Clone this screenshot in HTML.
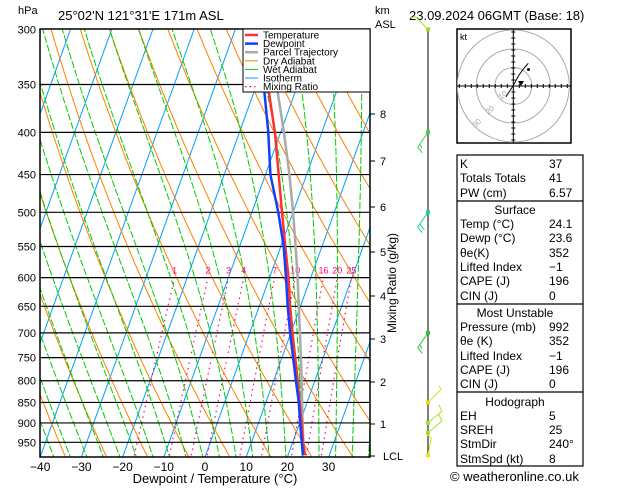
<!DOCTYPE html>
<html><head><meta charset="utf-8"><style>
body{margin:0;background:#fff;width:629px;height:486px;overflow:hidden;font-family:"Liberation Sans",sans-serif}
svg text{font-family:"Liberation Sans",sans-serif}
</style></head><body>
<svg id="s" width="629" height="486" viewBox="0 0 629 486" xmlns="http://www.w3.org/2000/svg">
<defs><clipPath id="pc"><rect x="40" y="29" width="330" height="428"/></clipPath>
<clipPath id="hc"><rect x="457" y="29" width="114" height="114"/></clipPath></defs>
<rect x="0" y="0" width="629" height="486" fill="#fff"/>
<g id="bg" clip-path="url(#pc)"></g>
<g id="iso"></g>
<g id="snd" clip-path="url(#pc)"></g>
<rect x="40" y="29" width="330" height="428" fill="none" stroke="#000" stroke-width="1.5"/>
<g id="lab" font-size="11"></g>
<text x="18" y="14" font-size="11">hPa</text>
<text x="58" y="20" font-size="13">25°02'N  121°31'E  171m  ASL</text>
<text x="375" y="14" font-size="11">km</text>
<text x="375" y="28" font-size="11">ASL</text>
<text x="409" y="20" font-size="13">23.09.2024 06GMT (Base: 18)</text>
<text x="215" y="483" font-size="13" text-anchor="middle">Dewpoint / Temperature (°C)</text>
<text transform="translate(396,283) rotate(-90)" font-size="12" text-anchor="middle">Mixing Ratio (g/kg)</text>
<g id="legend">
<rect x="243" y="29" width="127" height="63" fill="#fff" stroke="#000" stroke-width="1"/>
</g>
<g id="wind"></g>
<g id="hodo">
<rect x="457" y="29" width="114" height="114" fill="#fff" stroke="#000" stroke-width="1.5"/>
</g>
<g id="tbl" font-size="12"></g>
<text x="450" y="481" font-size="13">© weatheronline.co.uk</text>
</svg>
<script>
const pressures=[985,950,900,850,800,750,700,650,600,550,500,450,400,350,300];
const tempVals=[24.1,22.5,20.5,18.2,15.8,13.2,10.4,7.5,4.6,1.1,-2.7,-6.8,-11.4,-17.3,-24];
const dewVals=[23.6,22.2,20.1,18.0,15.4,12.7,9.8,6.9,4.0,0.7,-3.6,-8.8,-13.0,-18.3,-26];
const parcelVals=[24.1,22.6,20.7,18.8,16.8,14.6,12.2,9.6,6.8,3.6,0.0,-4.2,-9.2,-15.2,-22.5];
const isobars=[350,400,450,500,550,600,650,700,750,800,850,900,950];
const xTicks=[-40,-30,-20,-10,0,10,20,30];
const kmLabels=["8","7","6","5","4","3","2","1","LCL"];
const kmY=[114,161,207,252,296,339,382,424,456];
const mixVals=[1,2,3,4,7,10,16,20,25];
const windP=[300,400,500,700,850,900,925,985];
const windAngle=[-45,215,215,215,45,50,50,10];
const windSpd=[5,15,20,15,5,10,10,5];

const NS="http://www.w3.org/2000/svg";
function el(t,a,par){const e=document.createElementNS(NS,t);for(const k in a)e.setAttribute(k,a[k]);(par||document.getElementById('s')).appendChild(e);return e;}
function yP(p){return 442.3+358.3*Math.log(p/950);}
function xT(T,p){return 205+4.12*T+0.36*(457-yP(p));}
function path(pts){return pts.map((q,i)=>(i?'L':'M')+q[0].toFixed(1)+','+q[1].toFixed(1)).join('');}
const bg=document.getElementById('bg');
const plist=[];for(let p=1000;p>=290;p-=5)plist.push(p);
for(let T=-140;T<=50;T+=10){
 const e=el('path',{d:path([[xT(T,1000),yP(1000)],[xT(T,290),yP(290)]]),stroke:'#00a0ff','stroke-width':1,fill:'none'},bg);
 
 
}
for(let th=230;th<=500;th+=10){
 const pts=plist.map(p=>[xT(th*Math.pow(p/1000,0.286)-273.15,p),yP(p)]);
 const e=el('path',{d:path(pts),stroke:'#ff8000','stroke-width':1,fill:'none'},bg);
 
 
}
function es(T){return 6.112*Math.exp(17.67*T/(T+243.5));}
function moist(T0){const pts=[];let T=T0;for(let p=1000;p>=290;p-=5){pts.push([xT(T,p),yP(p)]);
 const Tk=T+273.15,rs=0.622*es(T)/(p-es(T)),L=2.5e6,Rd=287,cp=1005;
 const dTdp=(Rd*Tk+L*rs)/(p*(cp+L*L*rs*0.622/(Rd*Tk*Tk)));T-=dTdp*5;}return pts;}
for(let T0=-44;T0<=40;T0+=4){
 const e=el('path',{d:path(moist(T0)),stroke:'#00cc00','stroke-width':1,fill:'none','stroke-dasharray':'7,2'},bg);
 
 
}
function tdw(w,p){const e=w*p/(622+w);const l=Math.log(e/6.112);return 243.5*l/(17.67-l);}
mixVals.forEach(w=>{
 const pts=[];for(let p=1000;p>=600;p-=10)pts.push([xT(tdw(w,p),p),yP(p)]);
 const e=el('path',{d:path(pts),stroke:'#ff0080','stroke-width':1.2,fill:'none','stroke-dasharray':'1.5,4'},bg);
 
 
 const t=el('text',{x:xT(tdw(w,600),600),y:yP(600)-4,'font-size':9,fill:'#ff0080','text-anchor':'middle'},bg);
 t.textContent=w;
 
 
});
const iso=document.getElementById('iso');
isobars.forEach(p=>{
 const e=el('line',{x1:40,x2:370,y1:yP(p),y2:yP(p),stroke:'#000','stroke-width':1.2},iso);
 
 
});
const lab=document.getElementById('lab');
[300].concat(isobars).forEach(p=>{
 const t=el('text',{x:36,y:yP(p)+4,'text-anchor':'end'},lab);t.textContent=p;
 
 
});
xTicks.forEach(T=>{
 const t=el('text',{x:205+4.12*T,y:471,'text-anchor':'middle','font-size':12},lab);t.textContent=(T<0?'\u2212'+(-T):T);
 
 
});
kmLabels.forEach((k,i)=>{
 el('line',{x1:370,x2:375,y1:kmY[i],y2:kmY[i],stroke:'#000'},lab);
 const t=el('text',{x:k==='LCL'?383:380,y:kmY[i]+4},lab);t.textContent=k;
 
 
});
const snd=document.getElementById('snd');
function trace(vals,col,w,name){const e=el('path',{d:path(vals.map((v,i)=>[xT(v,pressures[i]),yP(pressures[i])])),stroke:col,'stroke-width':w,fill:'none'},snd);
 
 }
trace(parcelVals,'#aaaaaa',2.5,'parcel-trajectory');
trace(tempVals,'#ff3030',2.5,'temperature-line');
trace(dewVals,'#1040ff',2.5,'dewpoint-line');
const lg=document.getElementById('legend');
[['Temperature','#ff3030',2.5,''],['Dewpoint','#1040ff',2.5,''],['Parcel Trajectory','#aaa',2.5,''],['Dry Adiabat','#ff8000',1,''],['Wet Adiabat','#00cc00',1,''],['Isotherm','#00a0ff',1,''],['Mixing Ratio','#ff0080',1.2,'1.5,3']].forEach((r,i)=>{
 const y=35+i*8.6;
 el('line',{x1:245,x2:258,y1:y,y2:y,stroke:r[1],'stroke-width':r[2],'stroke-dasharray':r[3]},lg);
 const t=el('text',{x:263,y:y+3.5,'font-size':10},lg);t.textContent=r[0];
 
 
});
const wg=document.getElementById('wind');
el('line',{x1:428,x2:428,y1:29,y2:457,stroke:'#000','stroke-width':1},wg);
const wc=['#a0e020','#40d040','#20d0a0','#30c030','#e0e020','#b0e020','#a0e020','#e0e020'];
windP.forEach((p,i)=>{
 const y=yP(p),a=windAngle[i]*Math.PI/180,L=18;
 const ux=Math.sin(a),uy=-Math.cos(a);
 const g=el('g',{stroke:wc[i],'stroke-width':1,fill:'none'},wg);
 
 
 el('line',{x1:428,y1:y,x2:428+ux*L,y2:y+uy*L},g);
 let s=windSpd[i],k=0;
 while(s>=5){const f=1-k*0.2;const bx=428+ux*L*f,by=y+uy*L*f;const len=s>=10?7:4;
  const px=-uy,py=ux;
  el('line',{x1:bx,y1:by,x2:bx+px*len*-1+ux*2,y2:by+py*len*-1+uy*2},g);s-=s>=10?10:5;k++;}
 el('rect',{x:426,y:y-2,width:4,height:4,fill:wc[i],stroke:'none'},wg);
});
const hg=document.getElementById('hodo');
const hcg=el('g',{'clip-path':'url(#hc)'},hg);
[18.5,37,56].forEach(r=>el('circle',{cx:513.3,cy:86,r:r,fill:'none',stroke:'#aaa'},hcg));
el('line',{x1:457,x2:571,y1:86,y2:86,stroke:'#000'},hg);
el('line',{x1:513.3,x2:513.3,y1:29,y2:143,stroke:'#000'},hg);
for(let i=-9;i<=9;i++){if(!i)continue;el('line',{x1:513.3+i*6,x2:513.3+i*6,y1:84,y2:88,stroke:'#000'},hg);el('line',{x1:511.3,x2:515.3,y1:86+i*6,y2:86+i*6,stroke:'#000'},hg);}
el('path',{d:'M506,96.7 L513,86 L519,75 L525,67 L528.3,63.3',stroke:'#000',fill:'none','stroke-width':1},hg);
el('circle',{cx:528.5,cy:69.5,r:1.5,fill:'#000'},hg);
el('path',{d:'M518,81 L524,81 L521,86 Z',fill:'#000'},hg);
let ht=el('text',{x:460,y:40,'font-size':9},hg);ht.textContent='kt';
[['10',501,100],['20',488,115],['30',475,128]].forEach(q=>{const t=el('text',{x:q[1],y:q[2],'font-size':8,fill:'#aaa',transform:`rotate(-40 ${q[1]} ${q[2]})`},hg);t.textContent=q[0];});
const tb=document.getElementById('tbl');
el('rect',{x:457,y:155,width:126,height:311,fill:'none',stroke:'#000','stroke-width':1.2},tb);
[201,304,392].forEach(y=>el('line',{x1:457,x2:583,y1:y,y2:y,stroke:'#000','stroke-width':1.2},tb));
const rows=[[168,'K','37'],[182,'Totals Totals','41'],[197,'PW (cm)','6.57'],[214,'Surface',null],[228,'Temp (°C)','24.1'],[242,'Dewp (°C)','23.6'],[257,'θe(K)','352'],[271,'Lifted Index','\u22121'],[285,'CAPE (J)','196'],[300,'CIN (J)','0'],
[317,'Most Unstable',null],[331,'Pressure (mb)','992'],[345,'θe (K)','352'],[360,'Lifted Index','\u22121'],[374,'CAPE (J)','196'],[388,'CIN (J)','0'],
[406,'Hodograph',null],[420,'EH','5'],[434,'SREH','25'],[448,'StmDir','240°'],[463,'StmSpd (kt)','8']];
rows.forEach(r=>{
 if(r[2]===null){const t=el('text',{x:515,y:r[0],'text-anchor':'middle'},tb);t.textContent=r[1];
  
  return;}
 const t=el('text',{x:460,y:r[0]},tb);t.textContent=r[1];
 
 
 const v=el('text',{x:549,y:r[0]},tb);v.textContent=r[2];
 
 
});
</script>
</body></html>
